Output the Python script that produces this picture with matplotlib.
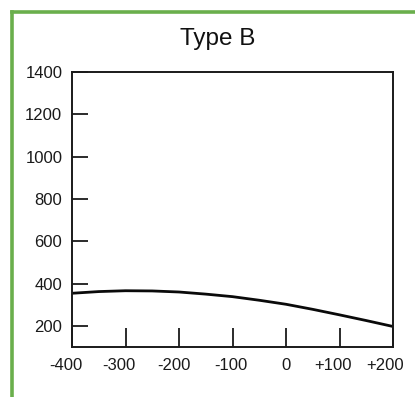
import matplotlib.pyplot as plt
from matplotlib.lines import Line2D
from matplotlib.transforms import ScaledTranslation

# curve read at 50-unit steps
x_vals = [-400, -350, -300, -250, -200, -150, -100, -50, 0, 50, 100, 150, 200]
y_vals = [354, 362, 366, 365, 360, 350, 338, 321, 302, 278, 252, 225, 197]

x_ticks = [-400, -300, -200, -100, 0, 100, 200]
x_labels = ['-400', '-300', '-200', '-100', '0', '+100', '+200']
y_ticks = [200, 400, 600, 800, 1000, 1200, 1400]

plt.rcParams['font.family'] = ['Liberation Sans', 'DejaVu Sans']

fig = plt.figure(figsize=(4.15, 3.97), dpi=100)
ax = fig.add_axes([72 / 415, 1 - 347 / 397, (393 - 72) / 415, (347 - 72) / 397])

ax.plot(x_vals, y_vals, color='#0a0a0a', lw=2.0)
ax.set_xlim(-400, 200)
ax.set_ylim(100, 1400)

ax.set_xticks(x_ticks)
ax.set_xticklabels(x_labels)
ax.set_yticks(y_ticks)

ax.tick_params(axis='x', direction='in', length=13.5, width=1.3, pad=8,
               labelsize=12, colors='#1a1a1a')
ax.tick_params(axis='y', direction='in', length=11.5, width=1.3, pad=7,
               labelsize=12, colors='#1a1a1a')
for s in ax.spines.values():
    s.set_linewidth(1.4)
    s.set_color('#1a1a1a')

# signed labels sit a little left of their ticks (shift in points)
x_label_shift = [-4.5, -4.5, -3.5, -1, 0, -5, -5.5]
for lab, dx in zip(ax.get_xticklabels(), x_label_shift):
    lab.set_transform(lab.get_transform() + ScaledTranslation(dx / 72, 0, fig.dpi_scale_trans))

fig.text(218 / 415, 1 - 45 / 397, 'Type B', ha='center', va='baseline',
         fontsize=17.5, color='#111111')

# green frame on top and left
green = '#6aaf4c'
fig.add_artist(Line2D([11.5 / 415, 1], [1 - 11.5 / 397] * 2, color=green, lw=2.6,
                      transform=fig.transFigure))
fig.add_artist(Line2D([11.5 / 415] * 2, [0, 1 - 11.5 / 397], color=green, lw=2.6,
                      transform=fig.transFigure))

fig.savefig('out.png', dpi=100)
